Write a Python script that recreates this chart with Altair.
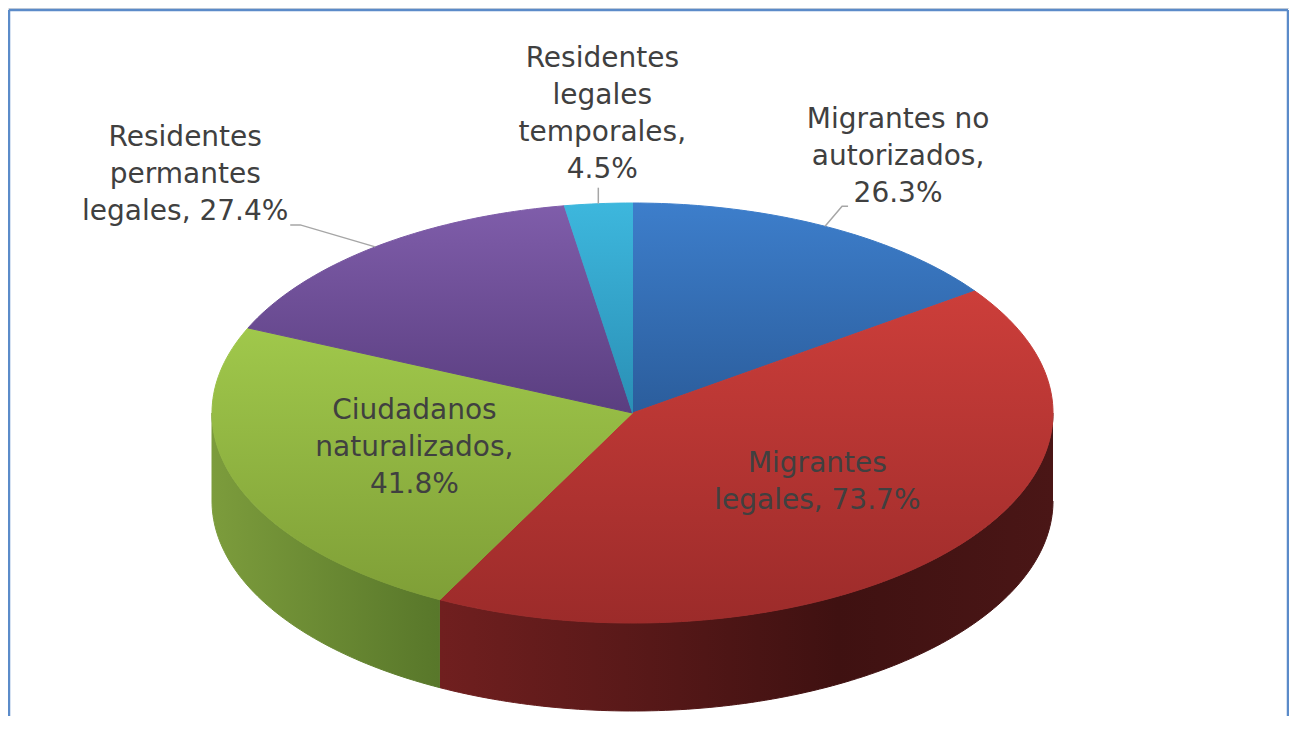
import math
import textwrap
import numpy as np
import pandas as pd
import altair as alt

# ---------------- data ----------------
categories = [
    "Migrantes no autorizados",
    "Migrantes legales",
    "Ciudadanos naturalizados",
    "Residentes permantes legales",
    "Residentes legales temporales",
]
values = [26.3, 73.7, 41.8, 27.4, 4.5]

# ---------------- style / layout ----------------
W, H = 1281, 708
CX, CY, RX, RY, DEPTH = 624.5, 405.0, 420.5, 210.0, 88.0

top_grad = {
    "Migrantes no autorizados": ["#3d7ecb", "#2b5d9c"],
    "Migrantes legales": ["#cc3e3a", "#9c2b2a"],
    "Ciudadanos naturalizados": ["#a0c84b", "#7f9f37"],
    "Residentes permantes legales": ["#7f5daa", "#5a3e80"],
    "Residentes legales temporales": ["#3db7dd", "#2a8fb5"],
}
side_grad = {
    "Migrantes no autorizados": [(0, "#2a5a96"), (1, "#1c3d66")],
    "Migrantes legales": [(0, "#701f1f"), (0.3, "#5a1919"), (0.65, "#3f1111"), (1, "#4a1616")],
    "Ciudadanos naturalizados": [(0, "#7c9c3c"), (1, "#58772a")],
    "Residentes permantes legales": [(0, "#5a3e80"), (1, "#3d2a57")],
    "Residentes legales temporales": [(0, "#2a8fb5"), (1, "#1d6580")],
}
# inside labels: radius factor and small nudge
inside_layout = {
    "Migrantes legales": (0.55, (10, -6)),
    "Ciudadanos naturalizados": (0.55, (0, -3)),
}
# outside labels: (elbow offset from rim point, end offset, text-centre offset)
outside_layout = {
    "Migrantes no autorizados": ((17, -20), (23, -20), (73, -69)),
    "Residentes permantes legales": ((-75, -22), (-85, -22), (-190, -72)),
    "Residentes legales temporales": ((0, -16), (0, -16), (4, -89)),
}
TEXT_COLOR = "#404040"
FONT = "DejaVu Sans"
FONT_SIZE = 28
LINE_H = 37
FRAME_COLOR = "#5b8bc9"
LEADER_COLOR = "#a6a6a6"


def rim(a_deg, r=1.0, dy=0.0):
    a = math.radians(a_deg)
    return CX + r * RX * math.sin(a), CY - r * RY * math.cos(a) + dy


total = sum(values)
cum = np.cumsum([0.0] + values)
starts = cum[:-1] / total * 360.0
ends = cum[1:] / total * 360.0

rows = []
for cat, s, e in zip(categories, starts, ends):
    n = max(2, int(math.ceil(e - s)) + 1)
    angs = np.linspace(s, e, n)
    k = 0
    rows.append(dict(cat=cat, part="top", k=k, x=CX, y=CY)); k += 1
    for a in angs:
        x, y = rim(a)
        rows.append(dict(cat=cat, part="top", k=k, x=x, y=y)); k += 1
    rows.append(dict(cat=cat, part="top", k=k, x=CX, y=CY))
    ss, ee = max(s, 90.0), min(e, 270.0)
    if ee > ss:
        n2 = max(2, int(math.ceil(ee - ss)) + 1)
        angs2 = np.linspace(ss, ee, n2)
        k = 0
        for a in angs2:
            x, y = rim(a)
            rows.append(dict(cat=cat, part="side", k=k, x=x, y=y)); k += 1
        for a in angs2[::-1]:
            x, y = rim(a, dy=DEPTH)
            rows.append(dict(cat=cat, part="side", k=k, x=x, y=y)); k += 1
poly = pd.DataFrame(rows)

lab_rows, lead_rows = [], []
for cat, v, s, e in zip(categories, values, starts, ends):
    lines = textwrap.wrap(f"{cat}, {v}%", 14)
    text = "\n".join(lines)
    mid = (s + e) / 2
    if cat in inside_layout:
        r, (nx, ny) = inside_layout[cat]
        x, y = rim(mid, r=r)
        x, y = x + nx, y + ny
    else:
        rx0, ry0 = rim(mid)
        (ex, ey), (fx, fy), (tx, ty) = outside_layout[cat]
        for k, (px, py) in enumerate([(rx0, ry0), (rx0 + ex, ry0 + ey), (rx0 + fx, ry0 + fy)]):
            lead_rows.append(dict(cat=cat, k=k, x=px, y=py))
        x, y = rx0 + tx, ry0 + ty
    # Vega puts the first line at y: shift so the block is centred
    y -= (len(lines) - 1) * LINE_H / 2
    lab_rows.append(dict(cat=cat, text=text, x=x, y=y))
labels = pd.DataFrame(lab_rows)
leaders = pd.DataFrame(lead_rows)

xs = alt.Scale(domain=[0, W], nice=False, zero=False)
ys = alt.Scale(domain=[0, H], nice=False, zero=False, reverse=True)
X = alt.X("x:Q", scale=xs, axis=None)
Y = alt.Y("y:Q", scale=ys, axis=None)

layers = []
for cat in categories:
    sd = poly[(poly.cat == cat) & (poly.part == "side")]
    if len(sd):
        g = alt.Gradient(
            gradient="linear",
            stops=[alt.GradientStop(offset=o, color=c) for o, c in side_grad[cat]],
            x1=0, x2=1, y1=0, y2=0,
        )
        layers.append(
            alt.Chart(sd).mark_line(fill=g, stroke=g, strokeWidth=1, interpolate="linear")
            .encode(x=X, y=Y, order=alt.Order("k:Q"))
        )
for cat in categories:
    tp = poly[(poly.cat == cat) & (poly.part == "top")]
    c0, c1 = top_grad[cat]
    g = alt.Gradient(
        gradient="linear",
        stops=[alt.GradientStop(offset=0, color=c0), alt.GradientStop(offset=1, color=c1)],
        x1=0, x2=0, y1=0, y2=1,
    )
    layers.append(
        alt.Chart(tp).mark_line(fill=g, stroke=g, strokeWidth=1, interpolate="linear")
        .encode(x=X, y=Y, order=alt.Order("k:Q"))
    )

layers.append(
    alt.Chart(leaders).mark_line(color=LEADER_COLOR, strokeWidth=1.5)
    .encode(x=X, y=Y, detail="cat:N", order=alt.Order("k:Q"))
)
layers.append(
    alt.Chart(labels).mark_text(
        lineBreak="\n", font=FONT, fontSize=FONT_SIZE, lineHeight=LINE_H,
        align="center", baseline="middle", color=TEXT_COLOR,
    ).encode(x=X, y=Y, text="text:N")
)

frame_df = pd.DataFrame({"k": [0]})
frame = [
    alt.Chart(frame_df).mark_rule(color=FRAME_COLOR, strokeWidth=2.5)
    .encode(x=alt.value(1), x2=alt.value(W - 1), y=alt.value(2)),
    alt.Chart(frame_df).mark_rule(color=FRAME_COLOR, strokeWidth=2.5)
    .encode(x=alt.value(1), y=alt.value(2), y2=alt.value(H)),
    alt.Chart(frame_df).mark_rule(color=FRAME_COLOR, strokeWidth=2.5)
    .encode(x=alt.value(W - 1), y=alt.value(2), y2=alt.value(H)),
]

chart = (
    alt.layer(*layers, *frame)
    .properties(width=W, height=H, padding=0, autosize=alt.AutoSizeParams(type="none"))
    .configure_view(stroke=None)
    .configure(background="white")
)

chart.save("out.html", embed_options={"renderer": "svg", "actions": False})
